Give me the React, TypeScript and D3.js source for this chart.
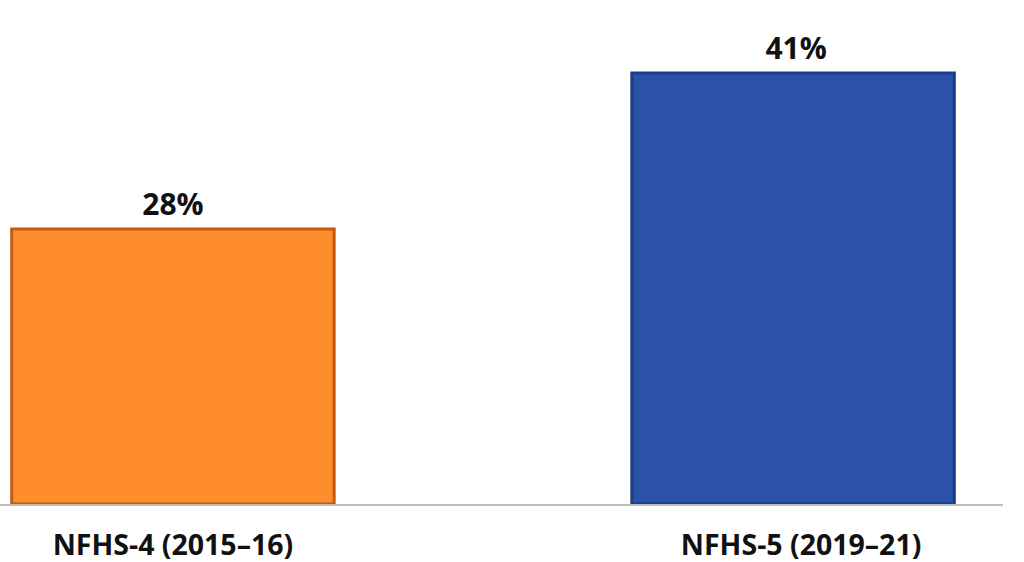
import React from "react";
import * as d3 from "d3";

const categories = ["NFHS-4 (2015–16)", "NFHS-5 (2019–21)"];
const values = [28, 41];
const valueLabels = ["28%", "41%"];
const fills = ["#FF8D2B", "#2A52A9"];
const strokes = ["#C55A11", "#1D3C86"];

const W = 1024;
const H = 562;

export default function App() {
  const x = d3.scaleBand<string>().domain(categories).range([-286, 1252]).padding(0.48);
  const y = d3.scaleLinear().domain([5.08, 41]).range([504, 73]);
  const font = "'Open Sans', sans-serif";
  return (
    <svg width={W} height={H} style={{ position: "absolute", left: 0, top: 0, background: "#fff" }}>
      {categories.map((c, i) => {
        const x0 = x(c)!;
        const bw = x.bandwidth();
        return (
          <g key={c}>
            <rect x={x0} y={y(values[i])} width={bw} height={y(5.08) - y(values[i])} fill={fills[i]} stroke={strokes[i]} strokeWidth={3} />
            <text x={x0 + bw / 2 + (i === 0 ? 0 : 3)} y={y(values[i]) - 14} textAnchor="middle" fontFamily={font} fontWeight="bold" fontSize={30} fill="#111">{valueLabels[i]}</text>
            <text x={x0 + bw / 2 + (i === 0 ? 0 : 8)} y={555} textAnchor="middle" fontFamily={font} fontWeight="bold" fontSize={28.5} fill="#111">{c}</text>
          </g>
        );
      })}
      <line x1={0} x2={1003} y1={505} y2={505} stroke="#BFBFBF" strokeWidth={2} />
    </svg>
  );
}
